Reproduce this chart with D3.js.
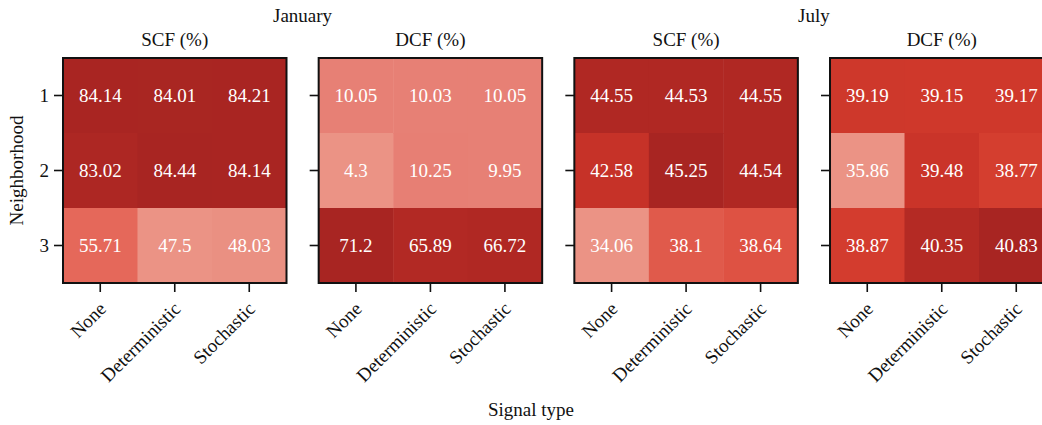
<!DOCTYPE html>
<html>
<head>
<meta charset="utf-8">
<script src="https://cdn.jsdelivr.net/npm/d3@7"></script>
<style>
  html, body { margin: 0; padding: 0; background: #fff; }
  svg { display: block; font-family: "Liberation Serif", "Times New Roman", serif; }
</style>
</head>
<body>
<svg id="chart" width="1042" height="425"></svg>
<script>
// ---- data ----
const signalTypes = ["None", "Deterministic", "Stochastic"];
const neighborhoods = ["1", "2", "3"];
const months = ["January", "July"];
const metrics = ["SCF (%)", "DCF (%)"];

const janSCF = [[84.14, 84.01, 84.21], [83.02, 84.44, 84.14], [55.71, 47.5, 48.03]];
const janDCF = [[10.05, 10.03, 10.05], [4.3, 10.25, 9.95], [71.2, 65.89, 66.72]];
const julSCF = [[44.55, 44.53, 44.55], [42.58, 45.25, 44.54], [34.06, 38.1, 38.64]];
const julDCF = [[39.19, 39.15, 39.17], [35.86, 39.48, 38.77], [38.87, 40.35, 40.83]];

const panels = [
  { month: months[0], metric: metrics[0], values: janSCF },
  { month: months[0], metric: metrics[1], values: janDCF },
  { month: months[1], metric: metrics[0], values: julSCF },
  { month: months[1], metric: metrics[1], values: julDCF }
];

// ---- layout ----
const svg = d3.select("#chart");
const panelW = 223.5, panelH = 225;
const topY = 58;
const panelStep = 255.67;

const colorRamp = d3.scaleLinear()
  .domain([0, 0.09, 0.22, 0.36, 0.45, 0.6, 0.72, 0.9, 1])
  .range(["#eb9385", "#e77f74", "#e5685a", "#e05a4b", "#dc4c3d", "#d33c2e", "#cb3529", "#b42a24", "#a82522"])
  .interpolate(d3.interpolateRgb)
  .clamp(true);

const fs = 19;

panels.forEach((p, i) => {
  const x0 = 63 + i * panelStep;
  const g = svg.append("g").attr("transform", `translate(${x0},${topY})`);
  const x = d3.scaleBand().domain(signalTypes).range([0, panelW]);
  const y = d3.scaleBand().domain(neighborhoods).range([0, panelH]);
  const flat = p.values.flat();
  const norm = d3.scaleLinear().domain(d3.extent(flat)).range([0, 1]);

  const cells = [];
  p.values.forEach((row, r) => row.forEach((v, c) => cells.push({ r, c, v })));

  g.selectAll("rect.cell").data(cells).join("rect")
    .attr("class", "cell")
    .attr("x", d => x(signalTypes[d.c]))
    .attr("y", d => y(neighborhoods[d.r]))
    .attr("width", x.bandwidth() + 0.5)
    .attr("height", y.bandwidth() + 0.5)
    .attr("fill", d => colorRamp(norm(d.v)));

  g.selectAll("text.val").data(cells).join("text")
    .attr("class", "val")
    .attr("x", d => x(signalTypes[d.c]) + x.bandwidth() / 2)
    .attr("y", d => y(neighborhoods[d.r]) + y.bandwidth() / 2)
    .attr("dy", "0.35em")
    .attr("text-anchor", "middle")
    .attr("fill", "#fff")
    .attr("font-size", fs)
    .text(d => d.v);

  // frame
  g.append("rect").attr("x", 0).attr("y", 0).attr("width", panelW).attr("height", panelH)
    .attr("fill", "none").attr("stroke", "#111").attr("stroke-width", 2);

  // y axis ticks
  const yAxis = d3.axisLeft(y).tickSize(9).tickPadding(5).tickFormat(i === 0 ? null : () => "");
  const ya = g.append("g").call(yAxis);
  ya.select(".domain").remove();
  ya.selectAll(".tick line").attr("stroke", "#111").attr("stroke-width", 1.6);
  ya.selectAll(".tick text").attr("font-size", fs).attr("fill", "#111").attr("font-family", "Liberation Serif");

  // x axis ticks
  const xAxis = d3.axisBottom(x).tickSize(9).tickFormat("");
  const xa = g.append("g").attr("transform", `translate(0,${panelH})`).call(xAxis);
  xa.select(".domain").remove();
  xa.selectAll(".tick line").attr("stroke", "#111").attr("stroke-width", 1.6);

  g.selectAll("text.xlab").data(signalTypes).join("text")
    .attr("class", "xlab")
    .attr("transform", d => `translate(${x(d) + x.bandwidth() / 2 + 7},${panelH + 27}) rotate(-45)`)
    .attr("text-anchor", "end")
    .attr("font-size", fs)
    .attr("fill", "#111")
    .text(d => d);

  // subtitle
  g.append("text").attr("x", panelW / 2).attr("y", -12)
    .attr("text-anchor", "middle").attr("font-size", fs).attr("fill", "#111")
    .text(p.metric);
});

// month titles centered over pairs
months.forEach((m, k) => {
  const left = 63 + (2 * k) * panelStep;
  const right = 63 + (2 * k + 1) * panelStep + panelW;
  svg.append("text").attr("x", (left + right) / 2).attr("y", 22)
    .attr("text-anchor", "middle").attr("font-size", fs).attr("fill", "#111")
    .text(m);
});

// axis titles
svg.append("text").attr("x", 531).attr("y", 416)
  .attr("text-anchor", "middle").attr("font-size", fs).attr("fill", "#111")
  .text("Signal type");
svg.append("text").attr("transform", `translate(23,${topY + panelH / 2}) rotate(-90)`)
  .attr("text-anchor", "middle").attr("font-size", fs).attr("fill", "#111")
  .text("Neighborhood");
</script>
</body>
</html>
